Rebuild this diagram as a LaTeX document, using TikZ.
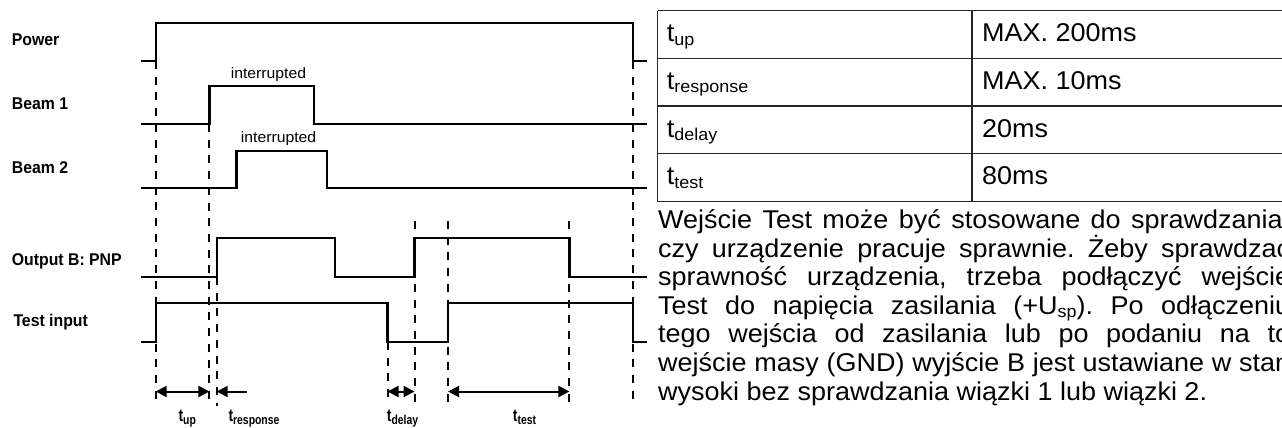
\documentclass[tikz,border=0pt]{standalone}
\usepackage{fontspec}
\setmainfont{Liberation Sans}
\newfontfamily\txtfont[FakeStretch=1.05]{Liberation Sans}
\newfontfamily\lblfont[FakeStretch=0.93]{Liberation Sans}
\newfontfamily\tfont[FakeStretch=0.8]{Liberation Sans}
\usetikzlibrary{arrows.meta}
\frenchspacing
\newcommand{\tabsub}[1]{\raisebox{-3.4pt}{\fontsize{17.1}{17.1}\selectfont #1}}
\newcommand{\tlab}[1]{t\raisebox{-2.8pt}{\fontsize{13}{13}\selectfont #1}}
\begin{document}
\begin{tikzpicture}[x=1pt,y=-1pt,
  sig/.style={line width=2.2pt, line join=miter},
  guide/.style={line width=2pt, dash pattern=on 8pt off 7.7pt},
  dimone/.style={line width=2pt, -{Triangle[length=11pt,width=11pt]}},
  dimboth/.style={line width=2pt, {Triangle[length=11pt,width=11pt]}-{Triangle[length=11pt,width=11pt]}},
  lbl/.style={anchor=base west, inner sep=0pt, font=\lblfont\bfseries\fontsize{17}{17}\selectfont},
  tlbl/.style={anchor=base west, inner sep=0pt, font=\tfont\bfseries\fontsize{17.5}{17.5}\selectfont},
  note/.style={anchor=base west, inner sep=0pt, font=\txtfont\fontsize{15}{15}\selectfont},
  cell/.style={anchor=base west, inner sep=0pt, font=\txtfont\fontsize{25.7}{25.7}\selectfont},
  para/.style={anchor=base west, inner sep=0pt, font=\txtfont\fontsize{25.7}{28.6}\selectfont},
  tbl/.style={line width=1.2pt, black!85}]
\path[use as bounding box] (0,0) rectangle (1282,428);
\clip (0,0) rectangle (1282,428);

% ---------- signal labels ----------
\node[lbl] (lpow) at (11.7,45.3) {Power};
\node[lbl] (lb1) at (11.7,109.3) {Beam 1};
\node[lbl] (lb2) at (11.7,173) {Beam 2};
\node[lbl] (lout) at (11.7,265) {Output B: PNP};
\node[lbl] (ltest) at (13.3,326) {Test input};

% ---------- guide lines ----------
\coordinate (g1t) at (155.7,61);  \coordinate (g1b) at (155.7,405);
\coordinate (g2t) at (209.4,124); \coordinate (g2b) at (209.4,400);
\coordinate (g3t) at (216.7,277); \coordinate (g3b) at (216.7,406);
\coordinate (g4t) at (387.5,342); \coordinate (g4b) at (387.5,403);
\coordinate (g5t) at (414.5,221); \coordinate (g5b) at (414.5,402);
\coordinate (g6t) at (448,221);   \coordinate (g6b) at (448,406);
\coordinate (g7t) at (569.4,221); \coordinate (g7b) at (569.4,407);
\coordinate (g8t) at (632.6,61);  \coordinate (g8b) at (632.6,405);
\foreach \i in {1,...,8}{\draw[guide] (g\i t) -- (g\i b);}

% ---------- signals ----------
\draw[sig] (141,60.7) -- (155.7,60.7) -- (155.7,22.7) -- (632.6,22.7) -- (632.6,60.7) -- (647,60.7);
\draw[sig] (141,124) -- (209.4,124) -- (209.4,86) -- (314,86) -- (314,124) -- (647,124);
\draw[sig] (141,187.7) -- (236.5,187.7) -- (236.5,150.7) -- (326.6,150.7) -- (326.6,187.7) -- (647,187.7);
\draw[sig] (141,276.7) -- (216.7,276.7) -- (216.7,238.3) -- (334.6,238.3) -- (334.6,276.7) -- (414.5,276.7) -- (414.5,238.3) -- (569.4,238.3) -- (569.4,276.7) -- (647,276.7);
\draw[sig] (141,341.7) -- (155.7,341.7) -- (155.7,303.3) -- (387.5,303.3) -- (387.5,341.7) -- (448,341.7) -- (448,303.3) -- (632.6,303.3) -- (632.6,341.7) -- (647,341.7);

\node[note] (int1) at (230.6,78) {interrupted};
\node[note] (int2) at (240.7,142.5) {interrupted};

% ---------- dimension arrows ----------
\coordinate (aup1) at (155.7,391.5);  \coordinate (aup2) at (209.4,391.5);
\coordinate (ares1) at (246.5,391.5); \coordinate (ares2) at (216.7,391.5);
\coordinate (adel1) at (387.5,391.5); \coordinate (adel2) at (414.5,391.5);
\coordinate (ates1) at (448,391.5);   \coordinate (ates2) at (569.4,391.5);
\draw[dimboth] (aup1) -- (aup2);
\draw[dimone] (ares1) -- (ares2);
\draw[dimboth] (adel1) -- (adel2);
\draw[dimboth] (ates1) -- (ates2);

\node[tlbl] (tup) at (178.3,421.7) {\tlab{up}};
\node[tlbl] (tresp) at (228.3,421.7) {\tlab{response}};
\node[tlbl] (tdel) at (386.7,421.7) {\tlab{delay}};
\node[tlbl] (ttest) at (512.7,421.7) {\tlab{test}};

% ---------- table ----------
\coordinate (tA) at (657.7,10.7); \coordinate (tB) at (1300,10.7);
\coordinate (tC) at (657.7,201.5); \coordinate (tD) at (1300,201.5);
\draw[tbl] (tA) -- (tB);
\draw[tbl] (657.7,58.3) -- (1300,58.3);
\draw[tbl] (657.7,106) -- (1300,106);
\draw[tbl] (657.7,153.8) -- (1300,153.8);
\draw[tbl] (tC) -- (tD);
\draw[tbl] (tA) -- (tC);
\draw[tbl] (972,10.7) -- (972,201.5);

\node[cell] (c11) at (666.7,41.7) {t\tabsub{up}};
\node[cell] (c21) at (666.7,89.3) {t\tabsub{response}};
\node[cell] (c31) at (666.7,137) {t\tabsub{delay}};
\node[cell] (c41) at (666.7,184.6) {t\tabsub{test}};
\node[cell] (c12) at (982,41.7) {MAX. 200ms};
\node[cell] (c22) at (982,89.3) {MAX. 10ms};
\node[cell] (c32) at (982,137) {20ms};
\node[cell] (c42) at (982,184.6) {80ms};

% ---------- paragraph ----------
\node[para] (p1) at (658,228.5) {\makebox[632pt][s]{Wejście Test może być stosowane do sprawdzania,}};
\node[para] (p2) at (658,257.1) {\makebox[632pt][s]{czy urządzenie pracuje sprawnie. Żeby sprawdzać}};
\node[para] (p3) at (658,285.7) {\makebox[632pt][s]{sprawność urządzenia, trzeba podłączyć wejście}};
\node[para] (p4) at (658,314.3) {\makebox[632pt][s]{Test do napięcia zasilania (+U\tabsub{sp}). Po odłączeniu}};
\node[para] (p5) at (658,342.9) {\makebox[632pt][s]{tego wejścia od zasilania lub po podaniu na to}};
\node[para] (p6) at (658,371.5) {\makebox[632pt][s]{wejście masy (GND) wyjście B jest ustawiane w stan}};
\node[para] (p7) at (658,400.1) {wysoki bez sprawdzania wiązki 1 lub wiązki 2.};
\end{tikzpicture}
\end{document}
